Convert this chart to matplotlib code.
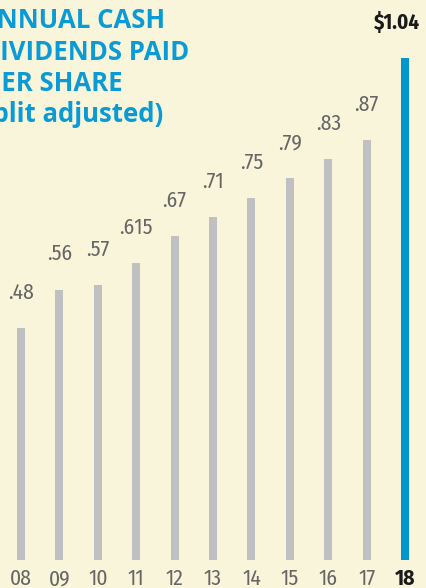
import matplotlib
matplotlib.use("Agg")
import matplotlib.pyplot as plt

# data
years = ["08", "09", "10", "11", "12", "13", "14", "15", "16", "17", "18"]
dividends = [0.48, 0.56, 0.57, 0.615, 0.67, 0.71, 0.75, 0.79, 0.83, 0.87, 1.04]
value_labels = [".48", ".56", ".57", ".615", ".67", ".71", ".75", ".79", ".83", ".87", "$1.04"]
title_lines = ["ANNUAL CASH", "DIVIDENDS PAID", "PER SHARE", "(split adjusted)"]

BG = '#F8F5DA'
GRAY_BAR = '#BFC0C2'
BLUE_BAR = '#0096D1'
TITLE_BLUE = '#0A9BD7'
LABEL_GRAY = '#666666'

NARROW = ['Fira Sans Condensed', 'DejaVu Sans']
TITLE_FONT = ['Open Sans', 'DejaVu Sans']

W, H = 427, 588
fig = plt.figure(figsize=(W / 100, H / 100), dpi=100, facecolor=BG)
ax = fig.add_axes([0, 0, 1, 1])
ax.set_facecolor(BG)
ax.axis('off')

# pixel mapping: bar i centred at 21 + 38.4*i, zero line 28 px above bottom
step = 38.4
x0 = 21
ax.set_xlim(-x0 / step, (W - x0) / step)
scale = 483.0
ax.set_ylim(-28 / scale, (H - 28) / scale)

xs = list(range(len(years)))
colors = [GRAY_BAR] * (len(years) - 1) + [BLUE_BAR]
ax.bar(xs, dividends, width=8 / step, color=colors, linewidth=0)

for i, (v, lab) in enumerate(zip(dividends, value_labels)):
    last = i == len(years) - 1
    ax.annotate(lab, (i, v), xytext=(-6 if last else 0, 21), textcoords='offset points',
                ha='center', va='baseline', fontsize=15 if last else 15.5,
                family=NARROW, fontweight='bold' if last else 'normal',
                color='#1a1a1a' if last else LABEL_GRAY)

# year labels under the bars
for i, yr in enumerate(years):
    last = i == len(years) - 1
    ax.annotate(yr, (i, 0), xytext=(0, -18), textcoords='offset points',
                ha='center', va='baseline', fontsize=15.5, family=NARROW,
                fontweight='bold' if last else 'normal',
                color='#1a1a1a' if last else LABEL_GRAY)

# title block, cropped at the left edge like the original
right_edges = [165, 189, 123, 163]
baselines = [28, 59.5, 91, 122]
for txt, xr, yb in zip(title_lines, right_edges, baselines):
    fig.text(xr / W, 1 - yb / H, txt, ha='right', va='baseline',
             fontsize=18.5, fontweight='bold', color=TITLE_BLUE,
             family=TITLE_FONT)

fig.savefig("out.png", dpi=100, facecolor=BG)
